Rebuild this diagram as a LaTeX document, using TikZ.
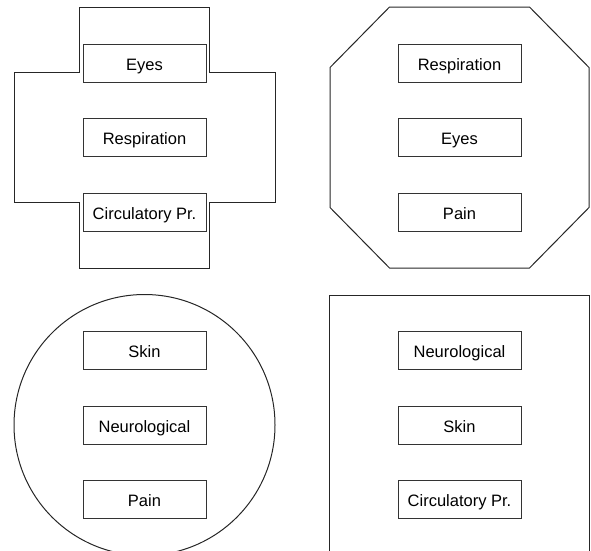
\documentclass[tikz,border=0pt]{standalone}
\usepackage{fontspec}
\setmainfont{Liberation Sans}
\usepackage{tikz}

\begin{document}
\begin{tikzpicture}[x=1pt,y=-1pt,
    item/.style={draw=black!80,line width=1pt,fill=white,minimum width=123pt,
      minimum height=38pt,inner sep=0pt,text height=14.5pt,text depth=0pt,
      font=\fontsize{16.5}{18}\selectfont},
    outline/.style={draw=black!85,line width=1pt}]
    \useasboundingbox (0,0) rectangle (591,550);
    \begin{scope}[shift={(144.5,137.5)}]
      \draw[outline] (-65,-130.5) -- (65,-130.5) -- (65,-65) -- (130.5,-65)
        -- (130.5,65) -- (65,65) -- (65,130.5) -- (-65,130.5) -- (-65,65)
        -- (-130.5,65) -- (-130.5,-65) -- (-65,-65) -- cycle;
      \foreach \t [count=\i] in {Eyes,Respiration,Circulatory Pr.}{
          \node[item] (cross\i) at (0,{(\i-2)*74.5}) {\t};
       }
    \end{scope}
    \begin{scope}[shift={(459.5,137.5)}]
      \draw[outline] (-70,-130.5) -- (70,-130.5) -- (129.5,-70) -- (129.5,70)
        -- (70,130.5) -- (-70,130.5) -- (-129.5,70) -- (-129.5,-70) -- cycle;
      \foreach \t [count=\i] in {Respiration,Eyes,Pain}{
          \node[item] (octa\i) at (0,{(\i-2)*74.5}) {\t};
       }
    \end{scope}
    \begin{scope}[shift={(144.5,425)}]
      \draw[outline] (0,0) circle (130.5);
      \foreach \t [count=\i] in {Skin,Neurological,Pain}{
          \node[item] (circ\i) at (0,{(\i-2)*74.5}) {\t};
       }
    \end{scope}
    \begin{scope}[shift={(459.5,425)}]
      \draw[outline] (-130.5,-130) rectangle (129.5,130);
      \foreach \t [count=\i] in {Neurological,Skin,Circulatory Pr.}{
          \node[item] (rect\i) at (0,{(\i-2)*74.5}) {\t};
       }
    \end{scope}
  \end{tikzpicture}
\end{document}
